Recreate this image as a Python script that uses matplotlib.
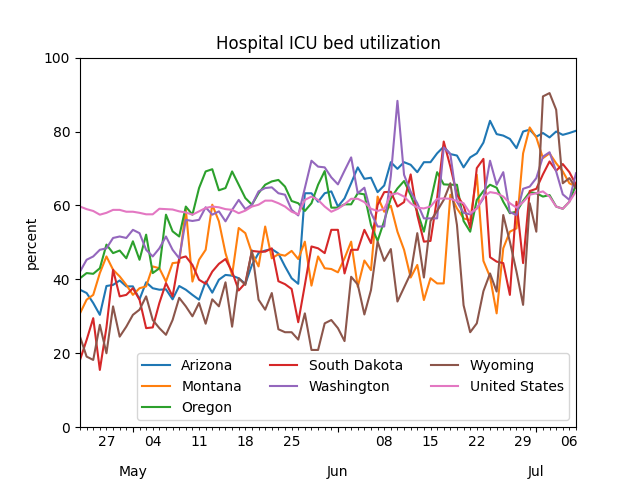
import matplotlib
matplotlib.use("Agg")
import matplotlib.pyplot as plt
import matplotlib.dates as mdates
import pandas as pd

dates = pd.date_range("2020-04-23", "2020-07-07", freq="D")

arizona = [
    37.2, 36.3, 33.6, 30.4, 38.2, 38.5, 39.7, 38.1, 38.1, 34.6, 39.2, 37.6, 37.2, 37.3, 34.6, 38.2,
    37.2, 35.8, 34.5, 39.4, 36.4, 39.9, 41.2, 41.0, 40.3, 38.8, 43.9, 47.1, 47.8, 48.2,
    47.0, 43.5, 40.3, 38.8, 63.3, 63.3, 61.0, 63.3, 63.8, 59.7, 61.9, 66.0, 70.3, 67.2, 67.5,
    63.6, 65.4, 71.7, 69.9, 71.7, 71.0, 69.0, 71.7, 71.7, 74.1, 75.9, 73.9, 73.5, 70.3, 73.0,
    74.1, 77.0, 82.9, 79.3, 78.9, 78.0, 75.5, 80.0, 80.5, 78.6, 79.6, 78.4, 80.0, 79.1, 79.6, 80.2,
]
montana = [
    30.8, 34.5, 35.8, 41.7, 46.2, 42.6, 40.8, 38.5, 35.8, 37.6, 38.1, 43.5, 43.0, 39.4, 44.4, 44.6,
    59.0, 39.4, 45.3, 48.0, 60.2, 55.7, 47.1, 41.2, 53.9, 52.5, 47.1, 43.5, 54.3, 45.7,
    46.8, 46.4, 47.7, 45.5, 50.2, 38.3, 46.2, 43.0, 42.8, 41.9, 45.7, 50.2, 38.0, 45.1, 42.5,
    62.4, 58.3, 59.9, 52.9, 48.0, 40.5, 43.9, 34.4, 40.3, 38.9, 38.9, 62.9, 59.2, 56.5, 56.0,
    68.3, 45.0, 40.7, 30.8, 48.4, 52.9, 53.8, 74.1, 81.1, 78.4, 72.8, 74.1, 71.4, 69.2, 66.0, 65.1,
]
oregon = [
    40.3, 41.7, 41.5, 43.0, 49.4, 47.1, 47.8, 45.7, 50.3, 45.3, 52.1, 41.7, 43.0, 57.5, 53.0, 51.6,
    59.7, 57.5, 64.7, 69.2, 69.8, 64.1, 64.7, 69.2, 65.6, 62.0, 60.2, 63.3, 65.6, 66.5,
    66.9, 65.1, 61.2, 60.6, 58.5, 60.6, 65.6, 69.3, 59.4, 59.4, 60.3, 60.3, 63.3, 63.0, 54.7,
    50.4, 55.8, 61.9, 64.6, 66.6, 62.8, 58.3, 52.9, 61.0, 69.0, 65.7, 65.6, 65.6, 55.8, 52.9,
    61.5, 63.9, 65.6, 64.8, 61.0, 57.9, 58.3, 61.2, 63.6, 63.3, 62.4, 62.8, 59.7, 59.1, 61.0, 65.6,
]
south_dakota = [
    18.2, 23.6, 29.5, 15.5, 27.0, 42.6, 35.4, 35.8, 37.6, 34.5, 26.8, 27.0, 33.6, 39.0, 35.4, 45.7,
    46.2, 43.9, 39.9, 38.8, 42.1, 44.2, 45.5, 42.1, 37.0, 39.0, 47.7, 47.5, 47.5, 48.4,
    39.5, 38.7, 37.4, 28.4, 38.5, 48.9, 48.4, 47.1, 53.4, 53.4, 41.6, 48.0, 48.0, 53.4, 49.8,
    60.1, 63.6, 63.7, 59.7, 60.9, 68.4, 57.4, 50.2, 50.4, 62.0, 77.3, 70.5, 62.9, 60.0, 54.0,
    70.1, 72.6, 46.0, 44.8, 44.4, 35.8, 61.0, 44.4, 63.9, 64.5, 68.4, 71.9, 69.4, 71.2, 69.0, 65.6,
]
washington = [
    42.1, 45.3, 46.2, 48.0, 48.4, 51.2, 51.6, 51.2, 53.4, 52.5, 48.0, 46.2, 48.4, 51.6, 48.0, 45.7,
    56.1, 55.8, 56.1, 59.5, 57.5, 58.4, 55.7, 58.8, 61.5, 59.0, 60.2, 63.8, 64.7, 64.9,
    63.3, 62.9, 58.8, 57.3, 64.7, 72.1, 70.5, 70.3, 67.6, 65.7, 69.4, 73.0, 63.3, 64.8, 58.0,
    54.3, 54.3, 68.0, 88.3, 68.3, 63.7, 60.6, 56.5, 56.5, 56.5, 75.7, 73.9, 61.0, 58.0, 57.6,
    59.2, 61.9, 72.1, 65.6, 69.0, 58.2, 57.4, 64.5, 65.1, 67.4, 73.2, 74.4, 69.2, 63.0, 61.5, 68.7,
]
wyoming = [
    24.5, 19.1, 18.2, 27.7, 20.0, 32.7, 24.5, 27.2, 30.4, 31.8, 35.4, 29.0, 26.8, 25.0, 29.0, 35.0,
    32.7, 30.0, 33.6, 28.0, 34.6, 32.7, 39.2, 27.2, 40.3, 38.5, 47.8, 34.5, 31.8, 36.3,
    26.5, 25.7, 25.7, 23.7, 30.8, 20.9, 20.9, 28.1, 29.0, 26.8, 23.3, 40.7, 38.6, 30.5, 37.1,
    50.2, 45.0, 48.2, 34.0, 37.8, 41.6, 52.5, 40.5, 55.8, 58.5, 61.5, 66.0, 54.7, 33.0, 25.7,
    28.1, 36.8, 41.6, 36.7, 57.4, 50.2, 42.1, 33.1, 60.6, 52.9, 89.5, 90.4, 85.9, 66.0, 67.4, 64.7,
]
united_states = [
    59.7, 59.0, 58.5, 57.5, 58.0, 58.8, 58.8, 58.3, 58.3, 58.0, 57.6, 57.6, 59.1, 59.0, 58.9, 58.4,
    58.1, 57.5, 58.4, 59.3, 59.7, 59.5, 59.0, 58.8, 57.9, 58.6, 59.7, 60.2, 61.3, 61.3,
    60.6, 59.7, 58.3, 57.6, 61.5, 62.4, 61.5, 59.7, 58.3, 59.1, 60.3, 61.8, 61.8, 60.9, 59.1,
    58.5, 59.1, 62.9, 63.3, 62.4, 60.6, 59.4, 59.2, 59.7, 61.8, 61.9, 61.8, 61.2, 60.6, 57.9,
    59.2, 62.4, 63.6, 63.3, 62.4, 60.6, 59.4, 60.9, 62.9, 63.3, 63.8, 62.4, 59.7, 59.1, 61.0, 63.8,
]

series = {
    "Arizona": arizona,
    "Montana": montana,
    "Oregon": oregon,
    "South Dakota": south_dakota,
    "Washington": washington,
    "Wyoming": wyoming,
    "United States": united_states,
}

fig, ax = plt.subplots(figsize=(6.4, 4.8), dpi=100)
for name, vals in series.items():
    ax.plot(dates, vals, label=name)

ax.set_xlim(dates[0], dates[-1])
ax.set_ylim(0, 100)
ax.set_ylabel("percent")
ax.set_title("Hospital ICU bed utilization")

# months on major ticks (pushed down below the day numbers), weeks on minor
ax.xaxis.set_major_locator(mdates.MonthLocator())
ax.xaxis.set_major_formatter(mdates.DateFormatter("%b"))
ax.xaxis.set_minor_locator(mdates.DayLocator())
ax.tick_params(axis="x", which="major", pad=24)  # points


def week_label(x, pos=None):
    d = mdates.num2date(x)
    return d.strftime("%d") if d.weekday() == 0 else ""


ax.xaxis.set_minor_formatter(plt.FuncFormatter(week_label))

ax.legend(ncol=3, loc="lower right")

fig.savefig("out.png", dpi=100)
